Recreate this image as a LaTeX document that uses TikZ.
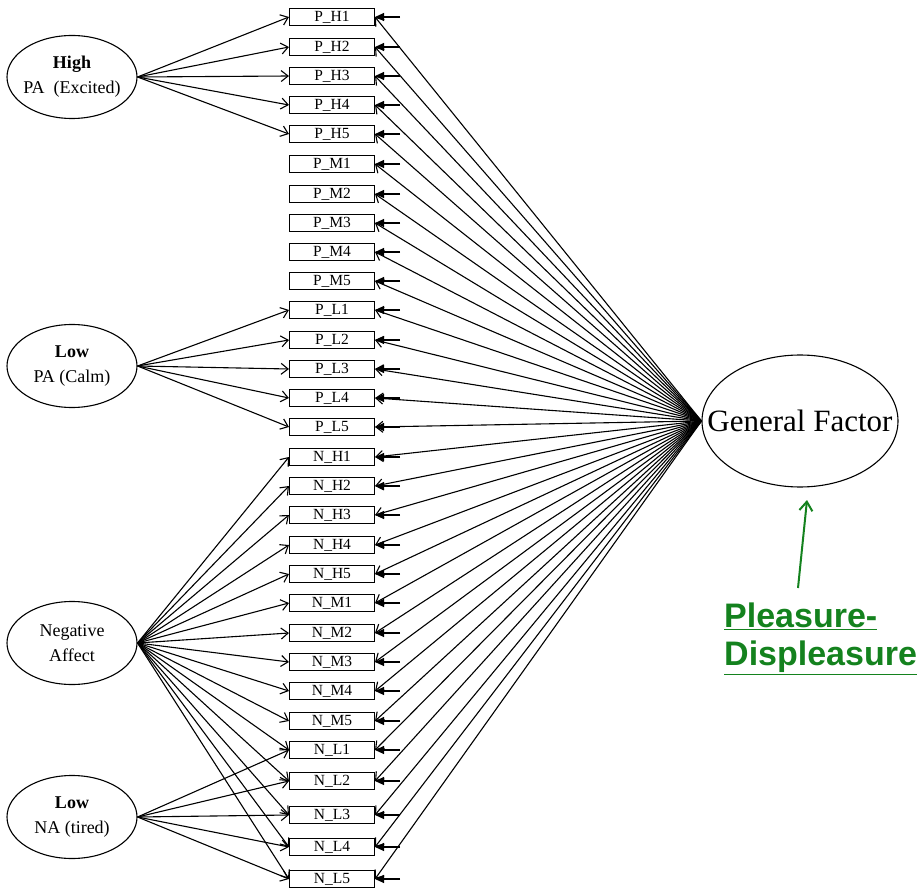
\documentclass[tikz,border=0pt]{standalone}
\usepackage{fontspec}
\setmainfont{Liberation Serif}
\newfontfamily\arialfont{Liberation Sans}
\usetikzlibrary{arrows.meta, shapes.geometric}
\definecolor{pdgreen}{RGB}{20,130,30}

\tikzset{
  item/.style={draw, line width=1.1pt, minimum width=85pt, minimum height=17pt, inner sep=0pt, font=\fontsize{15.5}{15.5}\selectfont},
  factor/.style={draw, line width=1.1pt, ellipse, minimum width=130pt, minimum height=83pt, inner xsep=-6pt, inner ysep=0pt, align=center, font=\fontsize{18}{25}\selectfont},
  load/.style={line width=1.1pt, -{Straight Barb[length=7pt,width=11pt]}},
  err/.style={line width=1.1pt, -{Triangle[length=9pt,width=8pt]}}
}

\begin{document}
\begin{tikzpicture}[x=1pt, y=-1pt]
    \useasboundingbox (0,0) rectangle (921,890);

    % general factor
    \node[draw, line width=1.1pt, ellipse, minimum width=196pt, minimum height=132pt, inner sep=0pt, font=\fontsize{31}{31}\selectfont] (gf) at (800,421) {\makebox[0pt]{General Factor}};

    % items, error terms and loadings on the general factor
    \foreach \g/\k/\y in {P/H1/17, P/H2/47, P/H3/76, P/H4/105, P/H5/134,
                          P/M1/164, P/M2/194, P/M3/223, P/M4/252, P/M5/281,
                          P/L1/310, P/L2/340, P/L3/369, P/L4/398, P/L5/427,
                          N/H1/457, N/H2/486, N/H3/515, N/H4/545, N/H5/574,
                          N/M1/603, N/M2/633, N/M3/662, N/M4/691, N/M5/721,
                          N/L1/750, N/L2/781, N/L3/815, N/L4/847, N/L5/879} {
        \node[item] (\g\k) at (332,\y) {\g\_\k};
        \coordinate (e\g\k) at (400,\y);
        \draw[err] (e\g\k) -- (\g\k.east);
        \draw[load] (gf.west) -- (\g\k.east);
    }

    % specific factors
    \node[factor] (hpa) at (72,77) {\textbf{High}\\PA~~(Excited)};
    \node[factor] (lpa) at (72,366) {\textbf{Low}\\PA (Calm)};
    \node[factor] (na) at (72,643) {Negative\\Affect};
    \node[factor] (lna) at (72,817) {\textbf{Low}\\NA (tired)};

    \foreach \k in {H1,H2,H3,H4,H5} \draw[load] (hpa.east) -- (P\k.west);
    \foreach \k in {L1,L2,L3,L4,L5} \draw[load] (lpa.east) -- (P\k.west);
    \foreach \k in {H1,H2,H3,H4,H5,M1,M2,M3,M4,M5,L1,L2,L3,L4,L5} \draw[load] (na.east) -- (N\k.west);
    \foreach \k in {L1,L2,L3,L4,L5} \draw[load] (lna.east) -- (N\k.west);

    % label for the general factor
    \node[text=pdgreen, font=\arialfont\bfseries\fontsize{34}{38}\selectfont, align=left, anchor=north west, inner sep=0pt] (pd) at (724,603) {\underline{Pleasure-}\\\underline{Displeasure}};
    \coordinate (pdtail) at (798,588);
    \coordinate (pdtip) at (807,500);
    \draw[pdgreen, line width=2pt, -{Straight Barb[length=9pt,width=13pt]}] (pdtail) -- (pdtip);
\end{tikzpicture}
\end{document}
